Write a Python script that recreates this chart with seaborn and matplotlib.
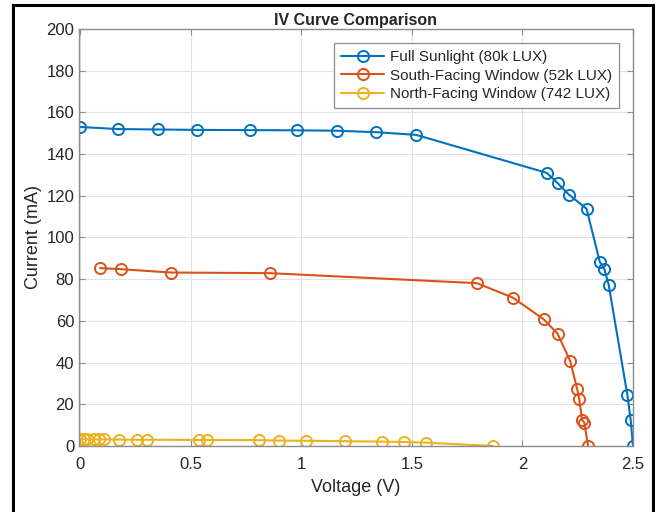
import matplotlib
matplotlib.use("Agg")
import matplotlib.pyplot as plt
import pandas as pd
import seaborn as sns
from matplotlib.patches import Rectangle

# IV data
full_v = [0.0, 0.17, 0.35, 0.53, 0.77, 0.98, 1.16, 1.34, 1.52, 2.11, 2.16, 2.21,
          2.29, 2.35, 2.37, 2.39, 2.475, 2.49, 2.5]
full_i = [153.0, 152.0, 151.8, 151.6, 151.5, 151.4, 151.2, 150.5, 149.2, 131.0, 126.0,
          120.6, 113.8, 88.3, 85.0, 77.4, 24.3, 12.3, 0.0]

south_v = [0.09, 0.186, 0.41, 0.857, 1.794, 1.956, 2.096, 2.159, 2.216, 2.248, 2.257,
           2.27, 2.28, 2.297]
south_i = [85.3, 84.8, 83.2, 82.9, 78.1, 71.2, 60.8, 53.9, 40.8, 27.2, 22.4, 12.5,
           11.2, 0.0]

north_v = [0.0, 0.017, 0.03, 0.065, 0.087, 0.11, 0.177, 0.257, 0.302, 0.538, 0.575,
           0.811, 0.899, 1.022, 1.196, 1.367, 1.466, 1.563, 1.868]
north_i = [3.3, 3.3, 3.3, 3.2, 3.2, 3.2, 3.1, 3.0, 3.0, 2.9, 2.9, 2.8, 2.6, 2.5, 2.3,
           2.1, 1.9, 1.6, 0.0]

labels = ["Full Sunlight (80k LUX)", "South-Facing Window (52k LUX)",
          "North-Facing Window (742 LUX)"]
colors = ["#0072BD", "#D95319", "#EDB120"]

sns.set_style("whitegrid")
plt.rcParams['font.family'] = ['Liberation Sans', 'DejaVu Sans']

fig = plt.figure(figsize=(6.59, 5.12), dpi=100)
ax = fig.add_axes([0.1199, 0.1289, 0.8406, 0.8145])

series = [(full_v, full_i), (south_v, south_i), (north_v, north_i)]
for (v, i), lab, col in zip(series, labels, colors):
    df = pd.DataFrame({"Voltage": v, "Current": i})
    sns.lineplot(data=df, x="Voltage", y="Current", ax=ax, estimator=None, sort=False,
                 color=col, linewidth=1.5, marker="o", markersize=8,
                 markerfacecolor="none", markeredgecolor=col, markeredgewidth=1.4,
                 label=lab)

ax.set_xlim(-0.005, 2.5)
ax.set_ylim(0, 200)
ax.set_xticks([0, 0.5, 1, 1.5, 2, 2.5])
ax.set_xticklabels(["0", "0.5", "1", "1.5", "2", "2.5"])
ax.set_yticks(range(0, 201, 20))

ax.grid(True, color="#e3e3e3", linewidth=0.8)
for s in ax.spines.values():
    s.set_color("#8c8c8c")
    s.set_linewidth(1.0)
    s.set_visible(True)
ax.tick_params(axis="both", which="both", direction="in", length=4, width=0.8,
               color="#8c8c8c", labelsize=12, labelcolor="#262626",
               top=True, right=True, bottom=True, left=True)
ax.tick_params(axis="x", pad=8)

ax.set_xlabel("Voltage (V)", fontsize=13, color="#262626", labelpad=5)
ax.set_ylabel("Current (mA)", fontsize=13, color="#262626", labelpad=3)
ax.set_title("IV Curve Comparison", fontsize=11.5, fontweight="bold", pad=3)

leg = ax.legend(loc="upper right", bbox_to_anchor=(0.975, 0.966), borderaxespad=0,
                fontsize=11, frameon=True, fancybox=False, framealpha=1,
                handlelength=2.8, borderpad=0.45, labelspacing=0.3, handletextpad=0.4)
leg.get_frame().set_edgecolor("#8c8c8c")
leg.get_frame().set_linewidth(0.9)

# outer black frame (bottom edge is outside the image)
fig.patches.append(Rectangle((12.5 / 659, -0.05), (653 - 12.5) / 659, 1.05 - 5 / 512,
                             transform=fig.transFigure, fill=False,
                             edgecolor="black", linewidth=2.2, clip_on=False))

fig.savefig("out.png", dpi=100)
